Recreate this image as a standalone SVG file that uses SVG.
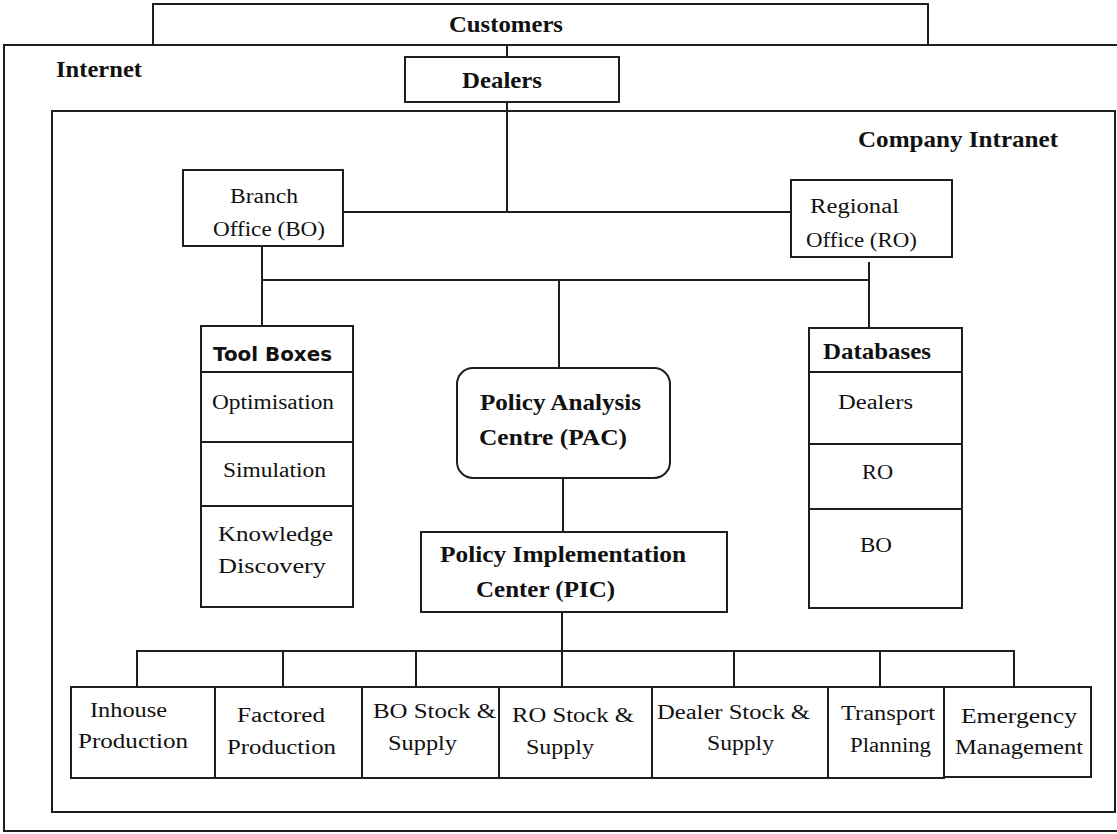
<svg xmlns="http://www.w3.org/2000/svg" width="1117" height="834" viewBox="0 0 1117 834">
<style>
.frame{fill:none;stroke:#1e1e1e;stroke-width:2}
.box{fill:#fff;stroke:#1e1e1e;stroke-width:2}
.ln{fill:none;stroke:#1e1e1e;stroke-width:2}
.t{font-family:"Liberation Serif",serif;font-size:20px;fill:#111}
.b{font-family:"Liberation Serif",serif;font-size:23px;font-weight:bold;fill:#111}
.s{font-family:"DejaVu Sans",sans-serif;font-size:19px;font-weight:bold;fill:#111}
</style>
<rect width="1117" height="834" fill="#fff"/>

<g id="customers">
<rect class="frame" x="153" y="4" width="775" height="41"/>
<text class="b" x="449" y="32" textLength="114" lengthAdjust="spacingAndGlyphs">Customers</text>
</g>
<g id="internet">
<rect class="frame" x="4" y="45" width="1120" height="786"/>
<text class="b" x="56" y="77" textLength="86" lengthAdjust="spacingAndGlyphs">Internet</text>
</g>
<g id="intranet">
<rect class="frame" x="52" y="111" width="1063" height="701"/>
<text class="b" x="858" y="147" textLength="200" lengthAdjust="spacingAndGlyphs">Company Intranet</text>
</g>

<g id="connectors">
<path class="ln" d="M507 45V57"/>
<path class="ln" d="M507 102V212"/>
<path class="ln" d="M343 212H791"/>
<path class="ln" d="M262 246V280H869V262"/>
<path class="ln" d="M262 280V326"/>
<path class="ln" d="M869 280V328"/>
<path class="ln" d="M559 280V368"/>
<path class="ln" d="M563 478V532"/>
<path class="ln" d="M562 612V651"/>
<path class="ln" d="M137 687V651H1014V687"/>
<path class="ln" d="M283 651V687M416 651V687M562 651V687M734 651V687M880 651V687"/>
</g>

<g id="dealers">
<rect class="box" x="405" y="57" width="214" height="45"/>
<text class="b" x="462" y="88" textLength="80" lengthAdjust="spacingAndGlyphs">Dealers</text>
</g>

<g id="branch-office">
<rect class="box" x="183" y="170" width="160" height="76"/>
<text class="t" x="230" y="203" textLength="68" lengthAdjust="spacingAndGlyphs">Branch</text>
<text class="t" x="213" y="236" textLength="112" lengthAdjust="spacingAndGlyphs">Office (BO)</text>
</g>

<g id="regional-office">
<rect class="box" x="791" y="180" width="161" height="77"/>
<text class="t" x="810" y="213" textLength="89" lengthAdjust="spacingAndGlyphs">Regional</text>
<text class="t" x="806" y="247" textLength="111" lengthAdjust="spacingAndGlyphs">Office (RO)</text>
</g>

<g id="tool-boxes">
<rect class="box" x="201" y="326" width="152" height="281"/>
<path class="ln" d="M201 372H353M201 442H353M201 506H353"/>
<text class="s" x="213" y="361" textLength="119" lengthAdjust="spacingAndGlyphs">Tool Boxes</text>
<text class="t" x="212" y="409" textLength="122" lengthAdjust="spacingAndGlyphs">Optimisation</text>
<text class="t" x="223" y="477" textLength="103" lengthAdjust="spacingAndGlyphs">Simulation</text>
<text class="t" x="218" y="541" textLength="115" lengthAdjust="spacingAndGlyphs">Knowledge</text>
<text class="t" x="218" y="573" textLength="108" lengthAdjust="spacingAndGlyphs">Discovery</text>
</g>

<g id="pac">
<rect class="box" x="457" y="368" width="213" height="110" rx="16" ry="16"/>
<text class="b" x="480" y="410" textLength="161" lengthAdjust="spacingAndGlyphs">Policy Analysis</text>
<text class="b" x="479" y="445" textLength="148" lengthAdjust="spacingAndGlyphs">Centre (PAC)</text>
</g>

<g id="pic">
<rect class="box" x="421" y="532" width="306" height="80"/>
<text class="b" x="440" y="562" textLength="246" lengthAdjust="spacingAndGlyphs">Policy Implementation</text>
<text class="b" x="476" y="597" textLength="139" lengthAdjust="spacingAndGlyphs">Center (PIC)</text>
</g>

<g id="databases">
<rect class="box" x="809" y="328" width="153" height="280"/>
<path class="ln" d="M809 372H962M809 444H962M809 509H962"/>
<text class="b" x="823" y="359" textLength="108" lengthAdjust="spacingAndGlyphs">Databases</text>
<text class="t" x="838" y="409" textLength="75" lengthAdjust="spacingAndGlyphs">Dealers</text>
<text class="t" x="862" y="479" textLength="31" lengthAdjust="spacingAndGlyphs">RO</text>
<text class="t" x="860" y="552" textLength="32" lengthAdjust="spacingAndGlyphs">BO</text>
</g>

<g id="inhouse-production">
<rect class="box" x="71" y="687" width="144" height="91"/>
<text class="t" x="90" y="717" textLength="77" lengthAdjust="spacingAndGlyphs">Inhouse</text>
<text class="t" x="78" y="748" textLength="110" lengthAdjust="spacingAndGlyphs">Production</text>
</g>
<g id="factored-production">
<rect class="box" x="215" y="687" width="147" height="91"/>
<text class="t" x="237" y="722" textLength="88" lengthAdjust="spacingAndGlyphs">Factored</text>
<text class="t" x="227" y="754" textLength="109" lengthAdjust="spacingAndGlyphs">Production</text>
</g>
<g id="bo-stock">
<rect class="box" x="362" y="687" width="137" height="91"/>
<text class="t" x="373" y="718" textLength="123" lengthAdjust="spacingAndGlyphs">BO Stock &amp;</text>
<text class="t" x="388" y="750" textLength="69" lengthAdjust="spacingAndGlyphs">Supply</text>
</g>
<g id="ro-stock">
<rect class="box" x="499" y="687" width="153" height="91"/>
<text class="t" x="512" y="722" textLength="122" lengthAdjust="spacingAndGlyphs">RO Stock &amp;</text>
<text class="t" x="526" y="754" textLength="68" lengthAdjust="spacingAndGlyphs">Supply</text>
</g>
<g id="dealer-stock">
<rect class="box" x="652" y="687" width="176" height="91"/>
<text class="t" x="657" y="719" textLength="153" lengthAdjust="spacingAndGlyphs">Dealer Stock &amp;</text>
<text class="t" x="707" y="750" textLength="67" lengthAdjust="spacingAndGlyphs">Supply</text>
</g>
<g id="transport-planning">
<rect class="box" x="828" y="687" width="116" height="91"/>
<text class="t" x="841" y="720" textLength="94" lengthAdjust="spacingAndGlyphs">Transport</text>
<text class="t" x="850" y="752" textLength="81" lengthAdjust="spacingAndGlyphs">Planning</text>
</g>
<g id="emergency-management">
<rect class="box" x="944" y="687" width="147" height="90"/>
<text class="t" x="961" y="723" textLength="116" lengthAdjust="spacingAndGlyphs">Emergency</text>
<text class="t" x="955" y="754" textLength="128" lengthAdjust="spacingAndGlyphs">Management</text>
</g>
</svg>
